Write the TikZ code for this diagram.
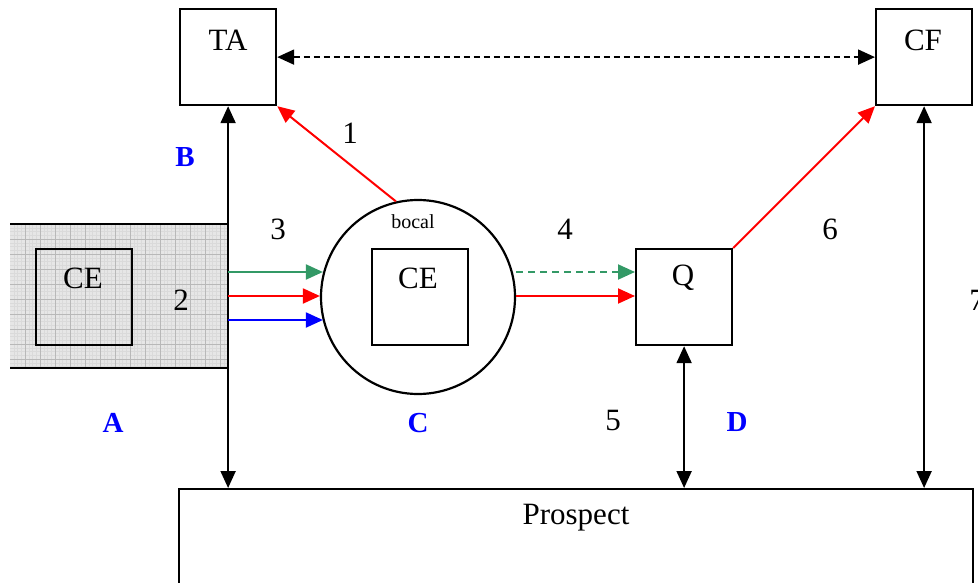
\documentclass[tikz,border=0pt]{standalone}
\usepackage{fontspec}
\setmainfont{Liberation Serif}
\usetikzlibrary{arrows.meta}
\definecolor{sgreen}{HTML}{339966}
\definecolor{gridfill}{HTML}{E6E6E6}
\definecolor{gridline}{HTML}{B8B8B8}
\definecolor{gridfine}{HTML}{DADADA}
\begin{document}
\begin{tikzpicture}[x=1pt,y=-1pt,
  txt/.style={font=\fontsize{31}{35}\selectfont, inner sep=0pt},
  smalltxt/.style={font=\fontsize{20}{24}\selectfont, inner sep=0pt},
  lettr/.style={font=\fontsize{29}{34}\selectfont\bfseries, text=blue, inner sep=0pt},
  box/.style={draw, line width=2.2pt, minimum width=96pt, minimum height=96pt, inner sep=0pt, anchor=north west},
  tip/.style={-{Triangle[length=17pt,width=15pt]}},
  dtip/.style={{Triangle[length=17pt,width=15pt]}-{Triangle[length=17pt,width=15pt]}},
  conn/.style={line width=2pt},
]
\useasboundingbox (0,0) rectangle (978,583);

% grid area A
\fill[gridfill] (10,224) rectangle (228,368);
\foreach \gx in {13.75,17.5,...,228} {\draw[gridfine, line width=0.25pt] (\gx,224) -- (\gx,368);}
\foreach \gy in {227.75,231.5,...,368} {\draw[gridfine, line width=0.25pt] (10,\gy) -- (228,\gy);}
\foreach \gx in {25,40,...,228} {\draw[gridline, line width=0.6pt] (\gx,224) -- (\gx,368);}
\foreach \gy in {239,254,...,368} {\draw[gridline, line width=0.6pt] (10,\gy) -- (228,\gy);}
\draw[line width=2.2pt] (10,224) -- (228,224);
\draw[line width=2.2pt] (10,368) -- (228,368);

% boxes
\node[box] (TA) at (179,8) {};
\node[txt] (TAt) at (228,40) {TA};
\node[box] (CF) at (875,8) {};
\node[txt] (CFt) at (923,40) {CF};
\node[box] (CEa) at (35,248) {};
\node[txt] (CEat) at (83,278) {CE};
\node[draw, circle, line width=2.2pt, minimum size=194pt, inner sep=0pt] (bocal) at (418,297) {};
\node[smalltxt] (bocalt) at (413,222) {bocal};
\node[box] (CEb) at (371,248) {};
\node[txt] (CEbt) at (418,278) {CE};
\node[box] (Q) at (635,248) {};
\node[txt] (Qt) at (683,278) {Q};
\node[draw, line width=2.2pt, minimum width=794pt, minimum height=140pt, anchor=north west, inner sep=0pt] (Prospect) at (178,488) {};
\node[txt] (Prospectt) at (576,518) {Prospect};

% labels
\node[txt] (n1) at (350,133) {1};
\node[txt] (n2) at (181,300) {2};
\node[txt] (n3) at (278,229) {3};
\node[txt] (n4) at (565,229) {4};
\node[txt] (n5) at (613,421) {5};
\node[txt] (n6) at (830,229) {6};
\node[txt] (n7) at (977,300) {7};
\node[lettr] (lA) at (113,423) {A};
\node[lettr] (lB) at (185,157) {B};
\node[lettr] (lC) at (418,423) {C};
\node[lettr] (lD) at (737,422) {D};

% coordinates for colored arrows
\coordinate (g1) at (228,272);
\coordinate (g2) at (228,296);
\coordinate (g3) at (228,320);

% black connectors
\draw[conn, dtip, dash pattern=on 6pt off 4pt] (TA.east) -- (CF.west);
\draw[conn, dtip] (TA.south) -- (TA.south |- Prospect.north);
\draw[conn, dtip] (CF.south) -- (CF.south |- Prospect.north);
\draw[conn, dtip] (Q.south) -- (Q.south |- Prospect.north);

% colored arrows
\draw[conn, tip, sgreen] (g1) -- ([xshift=3pt]g1 -| bocal.west);
\draw[conn, tip, red] (g2) -- (g2 -| bocal.west);
\draw[conn, tip, blue] (g3) -- ([xshift=3pt]g3 -| bocal.west);
\draw[conn, tip, sgreen, dash pattern=on 7pt off 5pt] (g1 -| bocal.east) -- (g1 -| Q.west);
\draw[conn, tip, red] (g2 -| bocal.east) -- (g2 -| Q.west);
\draw[conn, tip, red] (bocal.103) -- (TA.south east);
\draw[conn, tip, red] (Q.north east) -- (CF.south west);
\end{tikzpicture}
\end{document}
